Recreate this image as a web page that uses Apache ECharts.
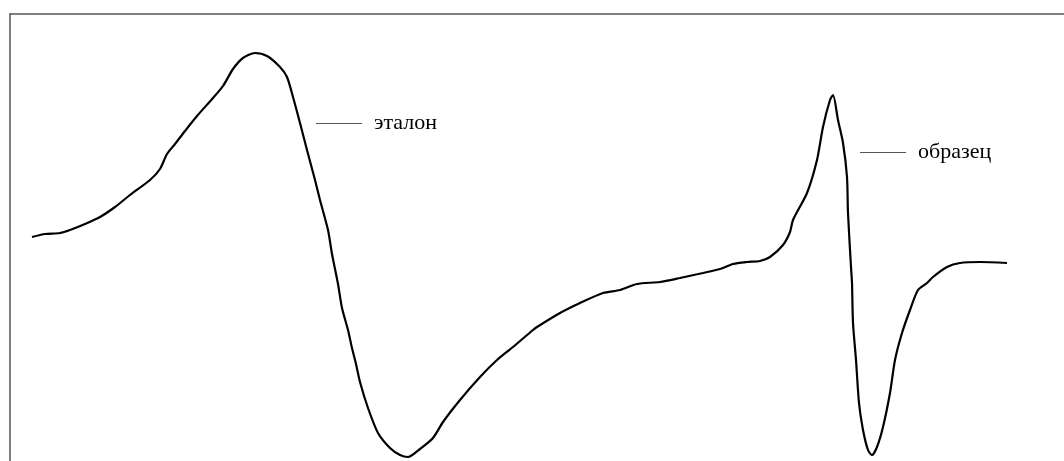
<!DOCTYPE html>
<html>
<head>
<meta charset="utf-8">
<script src="https://cdn.jsdelivr.net/npm/echarts@6/dist/echarts.min.js"></script>
<style>html,body{margin:0;padding:0;background:#fff}#c{width:1064px;height:461px}</style>
</head>
<body>
<div id="c"></div>
<script>
// Magnetic field (arbitrary units)
const field = [32,45,60,70,85,100,115,130,150,160,167,175,185,197,213,223,233,243,255,267,280,287,293,300,307,315,320,328,332,338,342,348,352,356,360,368,378,390,400,408,420,433,443,460,480,497,513,533,537,560,580,603,620,637,660,680,703,720,733,747,760,770,783,790,793,807,817,823,830,833,838,843,847,848,851,852,853,856,859,863,868,872,877,883,890,895,902,910,918,927,933,947,960,980,1007];
// Signal (arbitrary units, up = positive)
const signal = [13,16,17,20,26,33,43,55,70,81,96,106,119,134,152,164,181,192,197,194,183,173,153,127,100,70,50,20,-4,-34,-58,-80,-98,-114,-132,-158,-183,-198,-205,-207,-199,-188,-172,-150,-127,-110,-97,-80,-77,-63,-53,-43,-40,-34,-32,-28,-23,-19,-14,-12,-11,-7,5,18,30,57,90,123,150,155,130,107,73,37,-17,-33,-73,-110,-153,-180,-200,-205,-197,-177,-143,-110,-83,-60,-40,-33,-27,-17,-13,-12,-13];
const labelNames = ['эталон', 'образец'];
const labelLines = [[316, 362, 127], [860, 906, 98]];

const chart = echarts.init(document.getElementById('c'));
const data = field.map((f, i) => [f, signal[i]]);
const frame = {show: true, onZero: false, lineStyle: {color: '#555', width: 1.5}};
chart.setOption({
  animation: false,
  grid: {left: 10, top: 14, right: 0, bottom: 0, containLabel: false},
  xAxis: {type: 'value', min: 10, max: 1064, position: 'top', axisLine: frame, axisTick: {show: false}, axisLabel: {show: false}, splitLine: {show: false}},
  yAxis: {type: 'value', min: -211, max: 236, position: 'left', axisLine: frame, axisTick: {show: false}, axisLabel: {show: false}, splitLine: {show: false}},
  series: [{
    type: 'line',
    data: data,
    showSymbol: false,
    smooth: 0.25,
    lineStyle: {color: '#000', width: 2.2},
    markLine: {
      silent: true,
      symbol: 'none',
      lineStyle: {color: '#555', width: 1, type: 'solid'},
      label: {show: true, position: 'end', distance: 12, color: '#000', fontSize: 22, fontFamily: 'Liberation Serif', padding: [7, 0, 0, 0]},
      data: labelLines.map((l, i) => [
        {coord: [l[0], l[2]], name: labelNames[i], label: {formatter: labelNames[i]}},
        {coord: [l[1], l[2]]}
      ])
    }
  }]
});
</script>
</body>
</html>
